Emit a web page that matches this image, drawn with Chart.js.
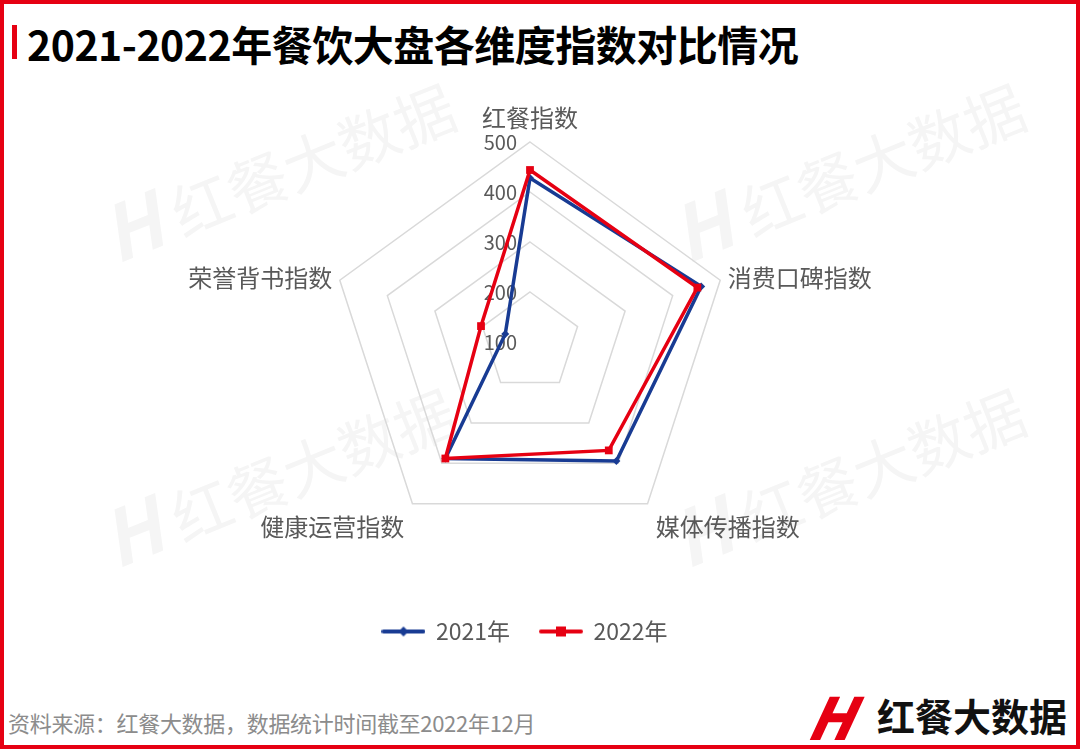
<!DOCTYPE html>
<html>
<head>
<meta charset="utf-8">
<script src="https://cdn.jsdelivr.net/npm/chart.js@4.4.1/dist/chart.umd.min.js"></script>
<style>
  html, body { margin:0; padding:0; background:#fff; }
  #frame { position:relative; width:1080px; height:749px; box-sizing:border-box; border:4px solid #e60012; overflow:hidden; font-family:"Noto Sans CJK SC","Noto Sans",sans-serif; }
  #bar { position:absolute; left:8px; top:21px; width:5px; height:34px; background:#e60012; }
  #title { position:absolute; left:23px; top:9px; font-size:41px; font-weight:700; color:#000; letter-spacing:-0.5px; white-space:nowrap; }
  .wm { position:absolute; font-size:60px; color:#f5f5f5; white-space:nowrap; transform:rotate(-22deg); transform-origin:left center; }
  .wm b { font-style:italic; font-size:76px; margin-right:14px; }
  #src { position:absolute; left:4px; top:702px; font-size:22px; color:#8c8c8c; white-space:nowrap; letter-spacing:-0.3px; }
  #logo { position:absolute; left:806px; top:682px; white-space:nowrap; }
  #logo .h { display:inline-block; font-size:58px; font-weight:900; font-style:italic; color:#e60012; vertical-align:middle; transform:skewX(-12deg); line-height:58px; }
  #logo .t { display:inline-block; font-size:38px; font-weight:700; color:#111; vertical-align:middle; margin-left:22px; line-height:58px; }
  #chartBox { position:absolute; left:-4px; top:-4px; width:1080px; height:749px; }
</style>
</head>
<body>
<div id="frame">
  <div class="wm" style="left:100px;top:175px;"><b>H</b>红餐大数据</div>
  <div class="wm" style="left:670px;top:175px;"><b>H</b>红餐大数据</div>
  <div class="wm" style="left:100px;top:480px;"><b>H</b>红餐大数据</div>
  <div class="wm" style="left:670px;top:480px;"><b>H</b>红餐大数据</div>
  <div id="bar"></div>
  <div id="title">2021-2022年餐饮大盘各维度指数对比情况</div>
  <div id="src">资料来源：红餐大数据，数据统计时间截至2022年12月</div>
  <div id="logo"><span class="h">H</span><span class="t">红餐大数据</span></div>
  <div id="chartBox"><canvas id="radar" width="1080" height="749"></canvas></div>
</div>
<script>
// dimensions and values
const dimensions = ['红餐指数', '消费口碑指数', '媒体传播指数', '健康运营指数', '荣誉背书指数'];
const values2021 = [428, 460, 394, 388, 152];
const values2022 = [444, 452, 368, 388, 203];
const tickValues = [100, 200, 300, 400, 500];
const seriesNames = ['2021年', '2022年'];

const BLUE = '#183b93';
const RED = '#e60012';
const GREY = '#595959';

// legend markers: a short line with the series marker in the middle
function legendMarker(color, shape){
    const c = document.createElement('canvas');
    c.width = 44; c.height = 14;
    const g = c.getContext('2d');
    g.strokeStyle = color; g.lineWidth = 4; g.lineCap = 'round';
    g.beginPath(); g.moveTo(2,7); g.lineTo(42,7); g.stroke();
    g.fillStyle = color;
    if (shape === 'diamond'){
        g.beginPath(); g.moveTo(22,2); g.lineTo(27,7); g.lineTo(22,12); g.lineTo(17,7); g.closePath(); g.fill();
    } else {
        g.fillRect(17,2,10,10);
    }
    return c;
}

// custom tick and point labels, placed through the scale
const labelPlugin = {
    id: 'radarLabels',
    beforeDatasetsDraw(chart){
        const s = chart.scales.r;
        const ctx = chart.ctx;
        ctx.save();
        ctx.fillStyle = GREY;
        ctx.font = '20px "Noto Sans CJK SC", sans-serif';
        ctx.textAlign = 'right';
        ctx.textBaseline = 'middle';
        tickValues.forEach(v=>{
            const y = s.yCenter - s.getDistanceFromCenterForValue(v);
            ctx.fillText(String(v), s.xCenter - 13, y);
        });
        ctx.restore();
    },
    afterDraw(chart){
        const s = chart.scales.r;
        const ctx = chart.ctx;
        ctx.save();
        ctx.fillStyle = GREY;
        ctx.font = '24px "Noto Sans CJK SC", sans-serif';
        dimensions.forEach((lab,i)=>{
            let p;
            if (i === 0){
                p = s.getPointPosition(i, s.drawingArea + 12);
                ctx.textAlign = 'center'; ctx.textBaseline = 'bottom';
            } else if (i === 1){
                p = s.getPointPosition(i, s.drawingArea + 8);
                ctx.textAlign = 'left'; ctx.textBaseline = 'middle';
            } else if (i === 4){
                p = s.getPointPosition(i, s.drawingArea + 8);
                ctx.textAlign = 'right'; ctx.textBaseline = 'middle';
            } else {
                p = s.getPointPosition(i, s.drawingArea + 14);
                ctx.textAlign = i === 2 ? 'left' : 'right'; ctx.textBaseline = 'top';
            }
            ctx.fillText(lab, p.x, p.y);
        });
        ctx.restore();
    }
};

new Chart(document.getElementById('radar'), {
    type: 'radar',
    data: {
        labels: dimensions,
        datasets: [
            {label: seriesNames[0], data: values2021, borderColor: BLUE, backgroundColor: BLUE, borderWidth: 3.5, fill: false,
             pointStyle: 'rectRot', pointRadius: 4, pointHoverRadius: 4, pointBackgroundColor: BLUE, pointBorderWidth: 0, order: 1},
            {label: seriesNames[1], data: values2022, borderColor: RED, backgroundColor: RED, borderWidth: 3.5, fill: false,
             pointStyle: 'rect', pointRadius: 5.5, pointHoverRadius: 5.5, pointBackgroundColor: RED, pointBorderWidth: 0, order: 0}
        ]
    },
    options: {
        responsive: false,
        devicePixelRatio: 1,
        animation: false,
        layout: {padding: {bottom: 96, right: 30}},
        plugins: {
            tooltip: {enabled: false},
            legend: {
                position: 'bottom',
                labels: {
                    usePointStyle: true,
                    pointStyleWidth: 42,
                    padding: 30,
                    color: GREY,
                    font: {size: 23, family: '"Noto Sans CJK SC", sans-serif'},
                    sort: (a,b)=>a.datasetIndex - b.datasetIndex,
                    generateLabels(chart){
                        return chart.data.datasets.map((ds,i)=>({
                            text: ds.label, datasetIndex: i, fontColor: GREY, lineWidth: 0,
                            hidden: !chart.isDatasetVisible(i),
                            pointStyle: legendMarker(ds.borderColor, i === 0 ? 'diamond' : 'square')
                        }));
                    }
                }
            }
        },
        scales: {
            r: {
                min: 100, max: 500,
                ticks: {stepSize: 100, display: false},
                pointLabels: {display: false},
                angleLines: {display: false},
                grid: {color: '#d9d9d9', lineWidth: 1.5},
                afterFit(scale){
                    scale.xCenter = 530;
                    scale.yCenter = 342;
                    scale.drawingArea = 200;
                }
            }
        }
    },
    plugins: [labelPlugin]
});
</script>
</body>
</html>
